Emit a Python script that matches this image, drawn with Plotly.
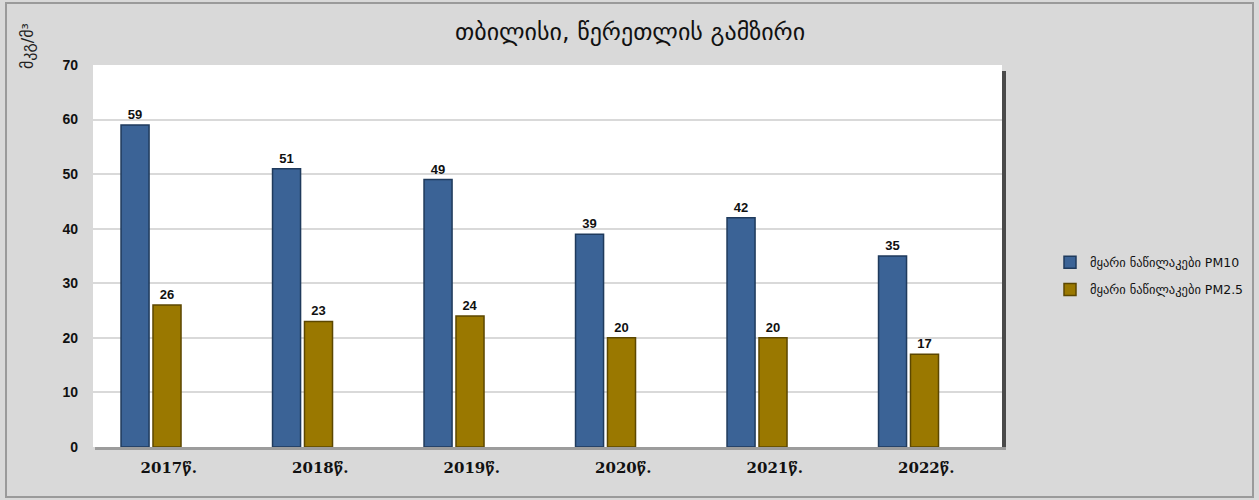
import plotly.graph_objects as go

# Annual mean particulate concentrations, Tbilisi – Tsereteli Avenue
years = ["2017წ.", "2018წ.", "2019წ.", "2020წ.", "2021წ.", "2022წ."]
pm10 = [59, 51, 49, 39, 42, 35]
pm25 = [26, 23, 24, 20, 20, 17]
series_names = ["მყარი ნაწილაკები PM10", "მყარი ნაწილაკები PM2.5"]
title_text = "თბილისი, წერეთლის გამზირი"
unit_text = "მკგ/მ³"

geo_font = "DejaVu Sans, Noto Sans, sans-serif"
num_font = "Liberation Sans, Arial, sans-serif"

fig = go.Figure()
fig.add_trace(go.Bar(
    x=years, y=pm10, name=series_names[0], legendgroup="pm10",
    marker=dict(color="#3b6396", line=dict(color="#1f3a5c", width=1.5)),
    width=0.185, offset=-0.315,
    text=pm10, textposition="outside", cliponaxis=False,
    textfont=dict(family=num_font, size=13, color="#111111", weight="bold"),
))
fig.add_trace(go.Bar(
    x=years, y=pm25, name=series_names[1], legendgroup="pm25",
    marker=dict(color="#9a7800", line=dict(color="#5c4700", width=1.5)),
    width=0.185, offset=-0.104,
    text=pm25, textposition="outside", cliponaxis=False,
    textfont=dict(family=num_font, size=13, color="#111111", weight="bold"),
))

# Plot-area size in pixels, used to place frame elements in paper units
W, H = 909, 382
px = 1.0 / W
py = 1.0 / H

# Drop shadow along the right and bottom edges of the white plotting area
fig.add_shape(type="rect", xref="paper", yref="paper",
              x0=1.0, x1=1.0 + 4 * px, y0=-3 * py, y1=1.0 - 6 * py,
              fillcolor="#4a4a4a", line_width=0, layer="below")
fig.add_shape(type="rect", xref="paper", yref="paper",
              x0=2 * px, x1=1.0 + 4 * px, y0=-3 * py, y1=0.0,
              fillcolor="#9c9c9c", line_width=0, layer="below")
# Outer frame of the chart
fig.add_shape(type="rect", xref="paper", yref="paper",
              x0=(6 - 93) * px, x1=(1253 - 93) * px,
              y0=-(497 - 447) * py, y1=(447 - 3) * py,
              line=dict(color="#9a9a9a", width=2), fillcolor="rgba(0,0,0,0)",
              layer="below")

fig.update_layout(
    width=1259, height=500,
    margin=dict(l=93, r=257, t=65, b=53, autoexpand=False),
    paper_bgcolor="#d9d9d9",
    plot_bgcolor="#ffffff",
    barmode="group",
    showlegend=True,
    legend=dict(
        x=(1050 - 93) * px, y=(447 - 276) * py, xanchor="left", yanchor="middle",
        font=dict(family=geo_font, size=12.5, color="#111111"),
        bgcolor="rgba(0,0,0,0)", itemwidth=30, tracegroupgap=8,
        traceorder="grouped",
    ),
    xaxis=dict(
        showgrid=False, showline=False, ticks="", ticklabelstandoff=10,
        tickfont=dict(family="DejaVu Serif, serif", size=15, color="#111111",
                      weight="bold"),
    ),
    yaxis=dict(
        range=[0, 70], dtick=10, showgrid=True, gridcolor="#d9d9d9", gridwidth=1.5,
        zeroline=False, showline=False, ticks="", ticklabelstandoff=14,
        tickfont=dict(family=num_font, size=14, color="#111111", weight="bold"),
    ),
    annotations=[
        dict(text=title_text, xref="paper", yref="paper",
             x=(630 - 93) * px, y=1.0, yshift=33, xanchor="center", yanchor="middle",
             showarrow=False, font=dict(family=geo_font, size=24, color="#111111")),
        dict(text=unit_text, xref="paper", yref="paper",
             x=0, xshift=-66, y=1.0, yshift=19, xanchor="center", yanchor="middle",
             textangle=-90, showarrow=False,
             font=dict(family=geo_font, size=16, color="#222222")),
    ],
)

fig.write_html("out.html")
